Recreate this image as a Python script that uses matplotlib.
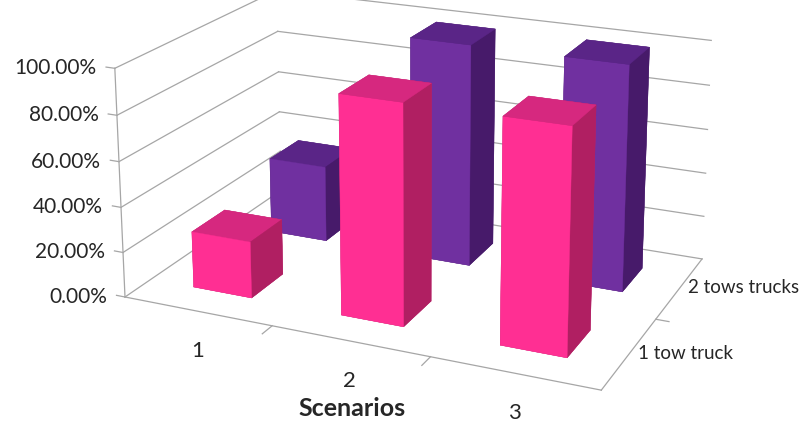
import numpy as np
import matplotlib
matplotlib.use("Agg")
import matplotlib.pyplot as plt
from mpl_toolkits.mplot3d import proj3d

plt.rcParams['font.family'] = ['Lato', 'DejaVu Sans']

# Data
scenarios = ['1', '2', '3']
series = ['1 tow truck', '2 tows trucks']
one_tow_truck = [0.25, 0.95, 0.95]
two_tow_trucks = [0.35, 1.00, 1.00]
z_ticks = [0.0, 0.2, 0.4, 0.6, 0.8, 1.0]
z_labels = ['0.00%', '20.00%', '40.00%', '60.00%', '80.00%', '100.00%']

# face colours: bottom, top, front, back, left, right
pink_faces = ['#c0226e', '#d6287f', '#ff2f93', '#c0226e', '#c0226e', '#b01f62']
purple_faces = ['#4d1d74', '#5a2587', '#7030a0', '#4d1d74', '#4d1d74', '#471a6a']

W, H = 801, 430
fig = plt.figure(figsize=(W / 100, H / 100), dpi=100)
ax = fig.add_axes([0.0, 0.40, 1.0, 1.0], projection='3d', computed_zorder=False)
ax.set_proj_type('persp', focal_length=0.8)
ax.view_init(elev=15, azim=-66)

nx = len(scenarios)
ny = len(series)
z_room = 2.4  # headroom above the bars keeps the camera near the top of the columns
ax.set_xlim(0, nx)
ax.set_ylim(0, ny)
ax.set_zlim(0, z_room)
ax.set_box_aspect((2.2, 1.45, 1.05 * z_room), zoom=1.9)
ax.set_axis_off()

artists = []
grid_kw = dict(color='#a6a6a6', lw=0.9, zorder=1)
# gridlines on left and back walls
for z in z_ticks:
    artists += ax.plot([0, 0], [0, ny], [z, z], **grid_kw)
    artists += ax.plot([0, nx], [ny, ny], [z, z], **grid_kw)
# vertical value axis and floor edges
artists += ax.plot([0, 0], [0, 0], [0, 1], **grid_kw)
artists += ax.plot([0, nx], [0, 0], [0, 0], **grid_kw)
artists += ax.plot([nx, nx], [0, ny], [0, 0], **grid_kw)
# tick marks
for z in z_ticks:
    artists += ax.plot([-0.06, 0], [0, 0], [z, z], **grid_kw)
for i in range(1, nx):
    artists += ax.plot([i, i], [-0.12, 0], [0, 0], **grid_kw)
for j in range(1, ny):
    artists += ax.plot([nx, nx + 0.08], [j, j], [0, 0], **grid_kw)

# bars
width = 0.4
depth = 0.4
xs, ys, hs, cols = [], [], [], []
for j, vals in enumerate([one_tow_truck, two_tow_trucks]):
    faces = pink_faces if j == 0 else purple_faces
    for i, v in enumerate(vals):
        xs.append(i + 0.5 - width / 2)
        ys.append(j + 0.5 - depth / 2)
        hs.append(v)
        cols.extend(faces)
n = len(xs)
bars = ax.bar3d(xs, ys, np.zeros(n), np.full(n, width), np.full(n, depth), hs,
                color=cols, shade=False, edgecolor=cols, linewidth=0.3, zorder=3)
artists.append(bars)

for a in artists:
    a.set_clip_on(False)


def to_pixels(x, y, z):
    px, py, _ = proj3d.proj_transform(x, y, z, ax.get_proj())
    return ax.transData.transform((px, py))


# place the front-left floor corner of the box at a fixed spot in the figure
fig.canvas.draw()
dx, dy = to_pixels(0, 0, 0)
target = (125, H - 297)
pos = ax.get_position(original=True)
ax.set_position([pos.x0 + (target[0] - dx) / W, pos.y0 + (target[1] - dy) / H,
                 pos.width, pos.height])
fig.canvas.draw()

# axis labels anchored to projected axis positions
for z, lab in zip(z_ticks, z_labels):
    u, v = to_pixels(0, 0, z)
    fig.text((u - 18) / W, v / H, lab, ha='right', va='center', fontsize=15, color='#262626')
for i, lab in enumerate(scenarios):
    u, v = to_pixels(i + 0.5, 0, 0)
    fig.text(u / W, (v - 40) / H, lab, ha='center', va='center', fontsize=16, color='#262626')
for j, lab in enumerate(series):
    u, v = to_pixels(nx, j + 0.5, 0)
    fig.text((u + 8) / W, v / H, lab, ha='left', va='center', fontsize=13.5, color='#262626')

fig.text(0.44, 0.05, 'Scenarios', ha='center', va='center', fontsize=18, fontweight='bold', color='#262626')

fig.savefig('out.png', dpi=100, facecolor='white')
